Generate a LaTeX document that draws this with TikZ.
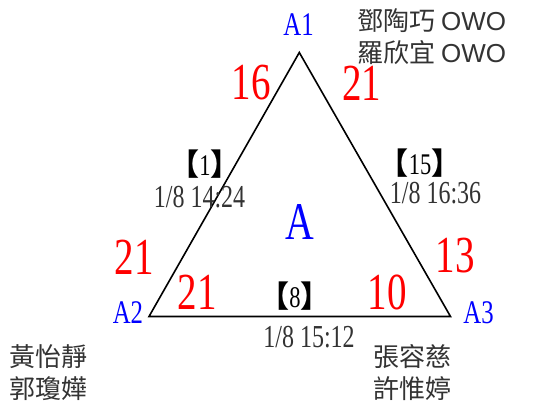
\documentclass[tikz,border=0pt]{standalone}
\usepackage{fontspec}
\usepackage{xcolor}
\usepackage{tikz}
\usetikzlibrary{positioning}
\setmainfont[FakeStretch=0.75]{Liberation Serif}
\newfontfamily\cjk{Noto Sans CJK TC}
\newfontfamily\latinsans{Liberation Sans}
\definecolor{TriBlue}{HTML}{0000FF}
\definecolor{TriRed}{HTML}{FF0000}
\definecolor{TriText}{HTML}{333333}

\tikzset{
  vertex/.style={inner sep=0pt,text=TriBlue,font=\fontsize{33}{33}\selectfont},
  score/.style={inner sep=0pt,text=TriRed,font=\fontsize{52}{52}\selectfont},
  gamenum/.style={inner sep=0pt,text=black,font=\fontsize{30}{30}\selectfont},
  gametime/.style={inner sep=0pt,text=TriText,font=\fontsize{32}{32}\selectfont},
  players/.style={inner sep=0pt,anchor=west,align=left,text=TriText,font=\cjk\fontsize{26}{32}\selectfont},
}
\newcommand{\lbr}{{\cjk\bfseries 【}}
\newcommand{\rbr}{{\cjk\bfseries 】}}

\begin{document}
\begin{tikzpicture}[x=1pt,y=-1pt]
\useasboundingbox (0,0) rectangle (553,409);
% triangle
\coordinate (top) at (299.3,52.5);
\coordinate (left) at (149,316.5);
\coordinate (right) at (450.5,316.5);
\draw[line width=1.6pt,line join=miter] (top)--(left)--(right)--cycle;
% group and vertices
\node[inner sep=0pt,text=TriBlue,font=\fontsize{53}{53}\selectfont] (grp) at (300,222.5) {A};
\node[vertex] (a1) at (298.5,24.5) {A1};
\node[vertex] (a2) at (128,313) {A2};
\node[vertex] (a3) at (478.5,312.5) {A3};
% scores
\node[score] (s12) at (251,83) {16};
\node[score] (s13) at (361.5,83) {21};
\node[score] (s21) at (134,257) {21};
\node[score] (s31) at (455,255.5) {13};
\node[score] (s23) at (197,292.5) {21};
\node[score] (s32) at (387,292.5) {10};
% games
\node[gamenum] (g1) at (205,164) {\lbr 1\rbr};
\node[gametime] (t1) at (199.5,197) {1/8 14:24};
\node[gamenum] (g15) at (420,163) {\lbr 15\rbr};
\node[gametime] (t15) at (435.5,193) {1/8 16:36};
\node[gamenum] (g8) at (295,296.5) {\lbr 8\rbr};
\node[gametime] (t8) at (309,337) {1/8 15:12};
% players
\node[players] (p1) at (357,37) {鄧陶巧 {\latinsans OWO}\\羅欣宜 {\latinsans OWO}};
\node[players] (p2) at (9,373) {黃怡靜\\郭瓊嬅};
\node[players] (p3) at (373,373) {張容慈\\許惟婷};
\end{tikzpicture}
\end{document}
